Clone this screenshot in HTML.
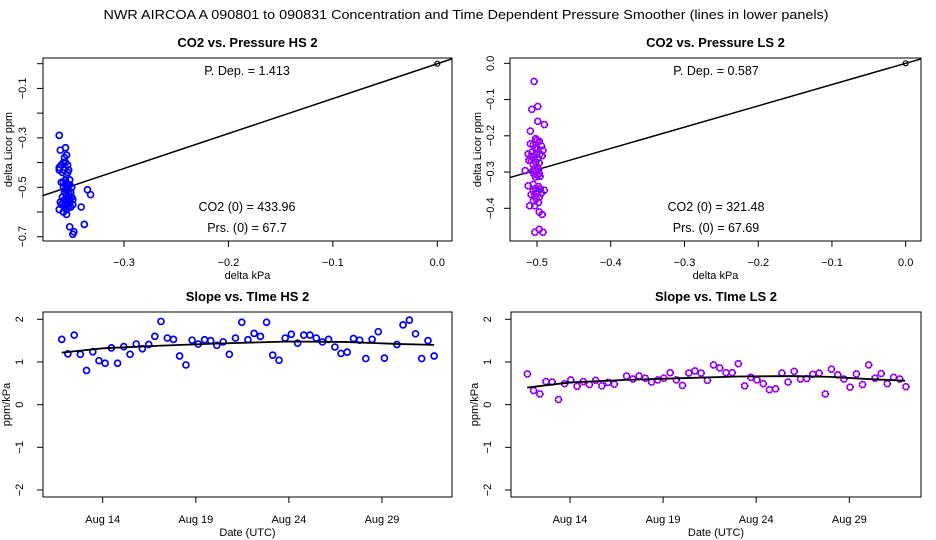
<!DOCTYPE html>
<html><head><meta charset="utf-8"><style>
html,body{margin:0;padding:0;background:#fff;}
svg{display:block;font-family:"Liberation Sans",sans-serif;}
</style></head><body>
<svg id="chart" width="936" height="540" viewBox="0 0 936 540">
<text x="466" y="19" font-size="12.5" text-anchor="middle" textLength="725" lengthAdjust="spacingAndGlyphs">NWR   AIRCOA A   090801 to 090831   Concentration and Time Dependent Pressure Smoother (lines in lower panels)</text>
</svg>
<script>
// ---- data ----
const hsScatterX = [-0.362,-0.361,-0.362,-0.362,-0.360,-0.356,-0.355,-0.357,-0.358,-0.356,-0.354,-0.353,-0.357,-0.359,-0.355,-0.356,-0.358,-0.356,-0.354,-0.352,-0.358,-0.356,-0.354,-0.357,-0.355,-0.353,-0.351,-0.359,-0.357,-0.355,-0.353,-0.350,-0.361,-0.358,-0.356,-0.354,-0.352,-0.349,-0.360,-0.357,-0.355,-0.353,-0.351,-0.358,-0.362,-0.341,-0.349,-0.335,-0.332,-0.352,-0.338,-0.348,-0.349,-0.360,-0.354,-0.352,-0.350,-0.352,-0.355];
const hsScatterY = [-0.29,-0.35,-0.42,-0.43,-0.41,-0.34,-0.37,-0.38,-0.40,-0.40,-0.41,-0.43,-0.43,-0.44,-0.45,-0.47,-0.48,-0.49,-0.49,-0.49,-0.50,-0.51,-0.51,-0.52,-0.53,-0.52,-0.52,-0.54,-0.55,-0.55,-0.54,-0.54,-0.56,-0.56,-0.57,-0.57,-0.56,-0.55,-0.57,-0.58,-0.59,-0.58,-0.58,-0.60,-0.59,-0.58,-0.57,-0.51,-0.53,-0.66,-0.65,-0.68,-0.69,-0.48,-0.44,-0.47,-0.50,-0.55,-0.61];
const lsScatterX = [-0.504,-0.507,-0.499,-0.499,-0.490,-0.509,-0.502,-0.500,-0.497,-0.509,-0.505,-0.494,-0.503,-0.499,-0.492,-0.507,-0.501,-0.496,-0.493,-0.504,-0.499,-0.508,-0.511,-0.502,-0.497,-0.505,-0.500,-0.503,-0.498,-0.516,-0.506,-0.501,-0.497,-0.504,-0.499,-0.502,-0.496,-0.505,-0.512,-0.498,-0.502,-0.496,-0.490,-0.505,-0.500,-0.494,-0.508,-0.503,-0.497,-0.501,-0.505,-0.498,-0.510,-0.503,-0.497,-0.493,-0.503,-0.497,-0.492,-0.508,-0.512,-0.501];
const lsScatterY = [-0.05,-0.127,-0.119,-0.160,-0.169,-0.187,-0.208,-0.212,-0.215,-0.222,-0.225,-0.228,-0.233,-0.236,-0.240,-0.245,-0.248,-0.250,-0.255,-0.258,-0.262,-0.266,-0.268,-0.272,-0.275,-0.280,-0.285,-0.290,-0.292,-0.296,-0.298,-0.300,-0.303,-0.306,-0.310,-0.314,-0.312,-0.334,-0.338,-0.340,-0.345,-0.347,-0.350,-0.352,-0.356,-0.358,-0.362,-0.366,-0.370,-0.374,-0.380,-0.384,-0.393,-0.393,-0.410,-0.417,-0.466,-0.458,-0.466,-0.258,-0.250,-0.232];
const hsSlope = 1.413, lsSlope = 0.587;
const hsDays = [11.80,12.13,12.47,12.80,13.13,13.47,13.80,14.13,14.47,14.80,15.13,15.47,15.80,16.13,16.47,16.80,17.13,17.47,17.80,18.13,18.47,18.80,19.13,19.47,19.80,20.13,20.47,20.80,21.13,21.47,21.80,22.13,22.47,22.80,23.13,23.47,23.80,24.13,24.47,24.80,25.13,25.47,25.80,26.13,26.47,26.80,27.13,27.47,27.80,28.13,28.47,28.80,29.13,29.80,30.13,30.47,30.80,31.13,31.47,31.80];
const hsVals = [1.53,1.19,1.63,1.18,0.80,1.24,1.03,0.97,1.33,0.97,1.36,1.18,1.42,1.31,1.41,1.60,1.95,1.56,1.53,1.14,0.93,1.51,1.42,1.52,1.50,1.39,1.47,1.18,1.56,1.93,1.52,1.67,1.60,1.93,1.16,1.04,1.56,1.65,1.44,1.63,1.63,1.56,1.47,1.53,1.35,1.20,1.23,1.55,1.51,1.08,1.53,1.71,1.09,1.41,1.87,1.98,1.66,1.08,1.50,1.14];
const hsTrendDays = [11.8,14,17,20,24,27,30,31.8];
const hsTrendVals = [1.22,1.32,1.38,1.43,1.48,1.47,1.42,1.40];
const lsDays = [11.71,12.04,12.38,12.71,13.04,13.38,13.71,14.04,14.38,14.71,15.04,15.38,15.71,16.04,16.38,17.04,17.38,17.71,18.04,18.38,18.71,19.04,19.38,19.71,20.04,20.38,20.71,21.04,21.38,21.71,22.04,22.38,22.71,23.04,23.38,23.71,24.04,24.38,24.71,25.04,25.38,25.71,26.04,26.38,26.71,27.04,27.38,27.71,28.04,28.38,28.71,29.04,29.38,29.71,30.04,30.38,30.71,31.04,31.38,31.71,32.04];
const lsVals = [0.72,0.33,0.25,0.54,0.53,0.12,0.49,0.58,0.43,0.54,0.47,0.57,0.44,0.52,0.48,0.67,0.60,0.67,0.62,0.53,0.58,0.62,0.75,0.58,0.45,0.74,0.79,0.74,0.57,0.93,0.86,0.75,0.75,0.96,0.44,0.64,0.58,0.49,0.35,0.37,0.74,0.53,0.78,0.60,0.61,0.71,0.74,0.25,0.83,0.70,0.60,0.41,0.72,0.47,0.93,0.62,0.73,0.49,0.64,0.60,0.42];
const lsTrendDays = [11.7,14,17,20,23,26,28,30,32];
const lsTrendVals = [0.40,0.52,0.58,0.62,0.66,0.67,0.65,0.60,0.56];
const hsXTicks = [-0.3,-0.2,-0.1,0.0];
const lsXTicks = [-0.5,-0.4,-0.3,-0.2,-0.1,0.0];
const dateTicks = [14,19,24,29];
const dateLabels = ["Aug 14","Aug 19","Aug 24","Aug 29"];
const slopeTicks = [2,1,0,-1,-2];

// ---- drawing ----
const svg = document.getElementById('chart');
const NS = 'http://www.w3.org/2000/svg';
function mk(tag, attrs, parent){const e=document.createElementNS(NS,tag);for(const k in attrs)e.setAttribute(k,attrs[k]);(parent||svg).appendChild(e);return e;}
function lin(d0,d1,p0,p1){return v=>p0+(v-d0)*(p1-p0)/(d1-d0);}
function fmt(v,dec){let s=v.toFixed(dec);if(v<0)s='\u2212'+s.slice(1);return s;}

function panel(g, box, title){
  const t=mk('text',{x:(box.l+box.r)/2,y:box.t-11,'font-size':13,'font-weight':'bold','text-anchor':'middle'},g);
  t.textContent=title;
  
  
  const r=mk('rect',{x:box.l,y:box.t,width:box.r-box.l,height:box.b-box.t,fill:'none',stroke:'#000','stroke-width':1},g);
  
  
}
function yAxis(g, box, ticks, sy, labelEvery, dec, title, labx, titx){
  ticks.forEach((v,i)=>{
    const y=sy(v);
    mk('line',{x1:box.l-6,x2:box.l,y1:y,y2:y,stroke:'#000'},g);
    if(labelEvery(i,v)){
      const t=mk('text',{x:0,y:0,'font-size':11,'text-anchor':'middle',transform:`translate(${labx},${y}) rotate(-90)`},g);
      t.textContent=fmt(v,dec);
      
      
    }
  });
  mk('line',{x1:box.l-0,x2:box.l,y1:sy(ticks[0]),y2:sy(ticks[ticks.length-1]),stroke:'#000'},g);
  const tt=mk('text',{x:0,y:0,'font-size':11,'text-anchor':'middle',transform:`translate(${titx},${(box.t+box.b)/2}) rotate(-90)`},g);
  tt.textContent=title;
  
  
}
function xAxis(g, box, ticks, labels, sx, title, laby, tity){
  ticks.forEach((v,i)=>{
    const x=sx(v);
    mk('line',{x1:x,x2:x,y1:box.b,y2:box.b+6,stroke:'#000'},g);
    const t=mk('text',{x:x,y:laby,'font-size':11,'text-anchor':'middle'},g);
    t.textContent=labels[i];
    
    
  });
  const tt=mk('text',{x:(box.l+box.r)/2,y:tity,'font-size':11,'text-anchor':'middle'},g);
  tt.textContent=title;
  
  
}
function pt(g,x,y,ls){
  if(ls){
    const c=mk('circle',{cx:x,cy:y,r:3,fill:'none',stroke:'#ff00ff','stroke-width':1.6},g);
    
    
    mk('circle',{cx:x,cy:y,r:3,fill:'none',stroke:'#0000ff','stroke-width':1.6,'stroke-dasharray':'1 1.5'},g);
  } else {
    const c=mk('circle',{cx:x,cy:y,r:3,fill:'none',stroke:'#0000ff','stroke-width':1.7},g);
    
    
  }
}
function label(g,x,y,txt,name){
  const t=mk('text',{x:x,y:y,'font-size':12.5,'text-anchor':'middle'},g);
  t.textContent=txt;
  
  
}
function clip(id,box){const cp=mk('clipPath',{id:id});mk('rect',{x:box.l,y:box.t,width:box.r-box.l,height:box.b-box.t},cp);}

// Panel 1: CO2 vs Pressure HS
(function(){
  const g=mk('g',{});
  
  
  const box={l:43,r:452,t:58,b:241};
  const sx=lin(-0.3,0.0,124,437.3), sy=lin(0,-0.7,63.7,236.7);
  clip('c1',box);
  panel(g,box,'CO2 vs. Pressure HS 2');
  const yt=[0,-0.1,-0.2,-0.3,-0.4,-0.5,-0.6,-0.7];
  yAxis(g,box,yt,sy,(i)=>i%2===1,1,'delta Licor ppm',26,12);
  xAxis(g,box,hsXTicks,hsXTicks.map(v=>fmt(v,1)),sx,'delta kPa',266,279);
  const pg=mk('g',{'clip-path':'url(#c1)'},g);
  const x0=-0.4,x1=0.02;
  mk('line',{x1:sx(x0),y1:sy(hsSlope*x0),x2:sx(x1),y2:sy(hsSlope*x1),stroke:'#000','stroke-width':1.5},pg);
  hsScatterX.forEach((v,i)=>pt(pg,sx(v),sy(hsScatterY[i]),false));
  mk('circle',{cx:sx(0),cy:sy(0),r:2.5,fill:'none',stroke:'#000','stroke-width':1.2},pg);
  label(g,247,75,'P. Dep. =  '+hsSlope.toFixed(3),'p-dep-label');
  label(g,247,211,'CO2 (0) =  433.96','co2-zero-label');
  label(g,247,232,'Prs. (0) =  67.7','prs-zero-label');
})();

// Panel 2: CO2 vs Pressure LS
(function(){
  const g=mk('g',{});
  
  
  const box={l:510,r:921,t:58,b:241};
  const sx=lin(-0.5,0.0,537,905.7), sy=lin(0,-0.4,63.3,208.3);
  clip('c2',box);
  panel(g,box,'CO2 vs. Pressure LS 2');
  const yt=[0,-0.1,-0.2,-0.3,-0.4];
  yAxis(g,box,yt,sy,()=>true,1,'delta Licor ppm',494,481);
  xAxis(g,box,lsXTicks,lsXTicks.map(v=>fmt(v,1)),sx,'delta kPa',266,279);
  const pg=mk('g',{'clip-path':'url(#c2)'},g);
  const x0=-0.6,x1=0.02;
  mk('line',{x1:sx(x0),y1:sy(lsSlope*x0),x2:sx(x1),y2:sy(lsSlope*x1),stroke:'#000','stroke-width':1.5},pg);
  lsScatterX.forEach((v,i)=>pt(pg,sx(v),sy(lsScatterY[i]),true));
  mk('circle',{cx:sx(0),cy:sy(0),r:2.5,fill:'none',stroke:'#000','stroke-width':1.2},pg);
  label(g,716,75,'P. Dep. =  '+lsSlope.toFixed(3),'p-dep-label');
  label(g,716,211,'CO2 (0) =  321.48','co2-zero-label');
  label(g,716,232,'Prs. (0) =  67.69','prs-zero-label');
})();

function slopePanel(name,box,title,d14,days,vals,td,tv,ls){
  const g=mk('g',{});
  
  
  const sx=lin(14,19,d14,d14+93.1), sy=lin(2,-2,319.3,490);
  panel(g,box,title);
  yAxis(g,box,slopeTicks,sy,()=>true,0,'ppm/kPa',box.l-20,box.l-33);
  xAxis(g,box,dateTicks,dateLabels,sx,'Date (UTC)',523,536);
  days.forEach((d,i)=>pt(g,sx(d),sy(vals[i]),ls));
  const p=mk('polyline',{points:td.map((d,i)=>sx(d)+','+sy(tv[i])).join(' '),fill:'none',stroke:'#000','stroke-width':1.8},g);
  
  
}
slopePanel('panel-slope-time-hs',{l:43,r:452,t:312,b:497},'Slope vs. TIme HS 2',102.7,hsDays,hsVals,hsTrendDays,hsTrendVals,false);
slopePanel('panel-slope-time-ls',{l:511,r:921,t:312,b:497},'Slope vs. TIme LS 2',570,lsDays,lsVals,lsTrendDays,lsTrendVals,true);
</script>
</body></html>
